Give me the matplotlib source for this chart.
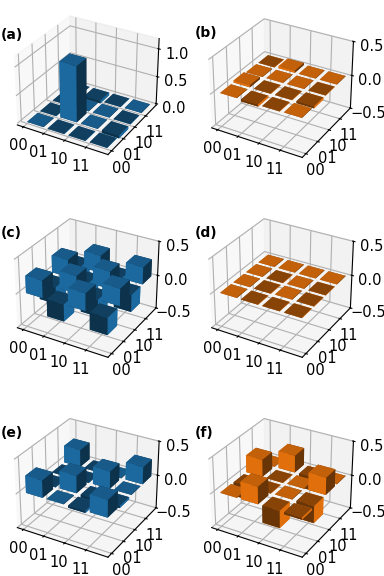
import numpy as np
import matplotlib
matplotlib.use('Agg')
import matplotlib.pyplot as plt

labels = ['00', '01', '10', '11']

# rows are x index, columns y index
panel_a = [[0.005, -0.005, -0.005, -0.005],
           [-0.005, 1.0, 0.005, -0.05],
           [-0.005, 0.005, 0.005, -0.005],
           [-0.005, -0.05, -0.005, 0.005]]
panel_b = [[0.005, 0.03, 0.005, -0.005],
           [-0.03, -0.005, 0.005, 0.03],
           [-0.005, -0.005, 0.005, 0.005],
           [0.005, -0.03, -0.005, 0.005]]
panel_c = [[0.25, -0.25, 0.25, -0.25],
           [-0.25, 0.25, -0.25, 0.25],
           [0.25, -0.25, 0.25, -0.25],
           [-0.25, 0.25, -0.25, 0.25]]
panel_d = [[0.005, 0.005, 0.005, 0.005],
           [-0.005, -0.005, -0.005, 0.005],
           [-0.005, 0.005, 0.005, 0.005],
           [-0.005, -0.005, -0.005, 0.005]]
panel_e = [[0.25, -0.005, -0.005, 0.25],
           [0.005, 0.25, -0.005, -0.005],
           [-0.03, -0.08, 0.25, 0.005],
           [0.25, -0.03, 0.005, 0.25]]
panel_f = [[0.005, -0.2, 0.25, 0.005],
           [0.25, -0.005, -0.005, 0.25],
           [-0.25, 0.005, 0.005, -0.2],
           [-0.03, -0.25, 0.25, 0.005]]

panels = [panel_a, panel_b, panel_c, panel_d, panel_e, panel_f]
names = ['(a)', '(b)', '(c)', '(d)', '(e)', '(f)']
colors = ['C0', 'C1', 'C0', 'C1', 'C0', 'C1']
zlims = [(-0.03, 1.18), (-0.5, 0.5), (-0.5, 0.5), (-0.5, 0.5), (-0.5, 0.5), (-0.5, 0.5)]
zticks = [[0, 0.5, 1.0], [-0.5, 0, 0.5], [-0.5, 0, 0.5], [-0.5, 0, 0.5], [-0.5, 0, 0.5], [-0.5, 0, 0.5]]
lefts = [0.001, 0.507, 0.001, 0.507, 0.001, 0.507]
bottoms = [0.714, 0.709, 0.362, 0.362, 0.015, 0.015]
name_x = [1, 195, 1, 195, 1, 195]
name_y = [35, 33, 233, 233, 433, 433]

fig = plt.figure(figsize=(3.84, 5.76), dpi=100)
for i in range(6):
    ax = fig.add_axes([lefts[i], bottoms[i], 0.445, 0.28], projection='3d')
    ax.patch.set_alpha(0)
    z = np.array(panels[i]).flatten()
    xpos, ypos = np.meshgrid(range(4), range(4), indexing='ij')
    xpos = xpos.flatten() - 0.5
    ypos = ypos.flatten() - 0.5
    ax.bar3d(xpos, ypos, np.zeros(16), 0.8, 0.8, z, color=colors[i])
    ax.set_xlim(-0.8, 3.5)
    ax.set_ylim(-0.8, 3.5)
    ax.set_zlim(zlims[i])
    ax.set_xticks(np.arange(4) - 0.5)
    ax.set_yticks(np.arange(4) - 0.5)
    ax.set_zticks(zticks[i])
    ax.set_xticklabels(labels)
    ax.set_yticklabels(labels)
    ax.tick_params(labelsize=10.5, pad=-2)
    ax.tick_params(axis='z', pad=0)
    fig.text(name_x[i] / 384, 1 - name_y[i] / 576, names[i], fontsize=10, fontweight='bold', va='center')
fig.savefig('out.png', dpi=100)
